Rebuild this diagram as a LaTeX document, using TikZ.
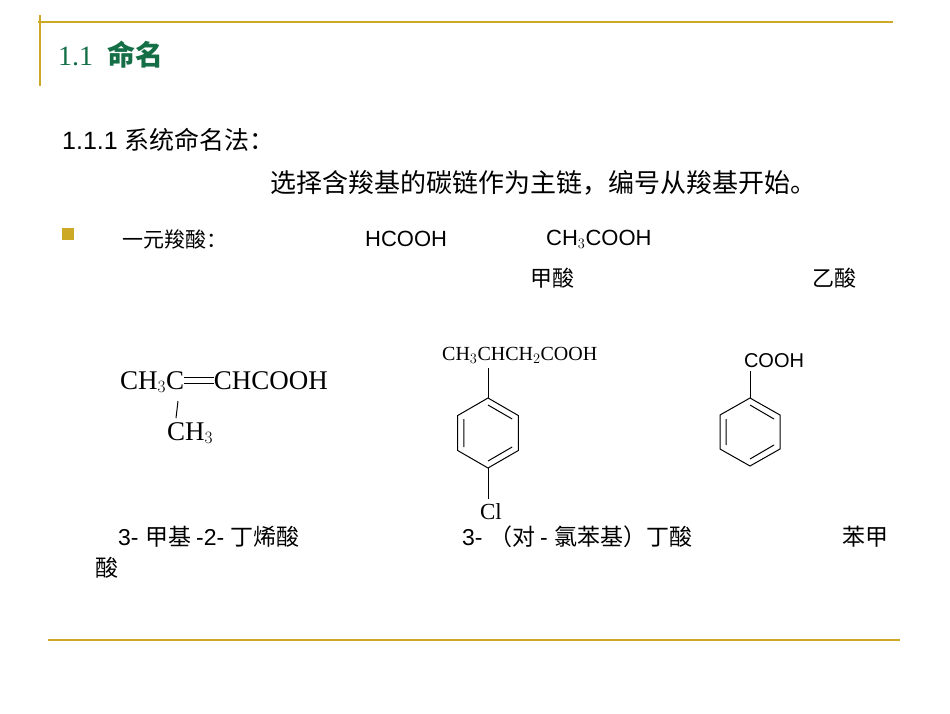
\documentclass[tikz,border=0pt]{standalone}
\usepackage{fontspec}
\setmainfont{Liberation Sans}
\newfontfamily\cjk{Noto Sans CJK SC}
\newfontfamily\serif{Liberation Serif}
\definecolor{gold}{RGB}{204,170,40}
\definecolor{tgreen}{RGB}{20,110,70}
\begin{document}
\begin{tikzpicture}[x=1pt,y=-1pt,
  txt/.style={anchor=west,inner sep=0pt},
  ring/.style={line width=1pt}]
\useasboundingbox (0,0) rectangle (950,713);
\fill[white] (0,0) rectangle (950,713);
% frame lines
\draw[gold,line width=1.5pt] (38,22) -- (893,22);
\draw[gold,line width=1.5pt] (40,15) -- (40,86);
\draw[gold,line width=1.5pt] (48,640) -- (900,640);
% titles
\node[txt,text=tgreen,font=\fontsize{28}{32}\selectfont] (t1) at (58,55) {\serif 1.1\hspace{14pt}\cjk\bfseries 命名};
\node[txt,font=\fontsize{25}{30}\selectfont] (t2) at (62,140) {1.1.1 \cjk 系统命名法：};
\node[txt,font=\fontsize{26}{30}\selectfont] (t3) at (270,183) {\cjk 选择含羧基的碳链作为主链，编号从羧基开始。};
\fill[gold] (62,228) rectangle (74,240);
\node[txt,font=\fontsize{21}{24}\selectfont] (b1) at (122,239) {\cjk 一元羧酸：};
\node[txt,font=\fontsize{22}{24}\selectfont] (h1) at (365,239) {HCOOH};
\node[txt,font=\fontsize{22}{24}\selectfont] (h2) at (546,239) {CH$_3$COOH};
\node[txt,font=\fontsize{22}{24}\selectfont] (n1) at (530,278) {\cjk 甲酸};
\node[txt,font=\fontsize{22}{24}\selectfont] (n2) at (812,278) {\cjk 乙酸};
% molecule 1
\node[txt,font=\fontsize{27}{30}\selectfont\serif] (m1) at (120,382) {CH$_3$C\raisebox{0.2em}{\rule{1.1em}{1pt}}\hspace{-1.1em}\raisebox{0.42em}{\rule{1.1em}{1pt}}CHCOOH};
\coordinate (v1) at (178,401);
\coordinate (v2) at (176,418);
\draw[line width=1pt] (v1) -- (v2);
\node[txt,font=\fontsize{27}{30}\selectfont\serif] (m1b) at (167,433) {CH$_3$};
% ring 1
\draw[ring] (488,398) -- (518.3,415.5) -- (518.3,450.5) -- (488,468) -- (457.7,450.5) -- (457.7,415.5) -- cycle;
\draw[ring] (488,405) -- (512.2,419) (512.2,447) -- (488,461) (463.8,447) -- (463.8,419);
\node[txt,font=\fontsize{20}{24}\selectfont\serif] (s1) at (442,355) {CH$_3$CHCH$_2$COOH};
\coordinate (s1b) at (488,368);
\draw[ring] (488,398) -- (s1b);
\node[font=\fontsize{23}{26}\selectfont\serif,inner sep=1pt] (cl) at (491,512) {Cl};
\coordinate (clt) at (488,499);
\draw[ring] (488,468) -- (clt);
% ring 2
\draw[ring] (750,398) -- (780,415) -- (780,449) -- (750,466) -- (720,449) -- (720,415) -- cycle;
\draw[ring] (750,405) -- (774,419) (774,445) -- (750,459) (726,445) -- (726,419);
\node[font=\fontsize{20}{24}\selectfont,inner sep=1pt] (co) at (774,361) {COOH};
\coordinate (cob) at (750,371);
\draw[ring] (750,398) -- (cob);
% names
\node[txt,font=\fontsize{23}{26}\selectfont] (p1) at (118,537) {3- \cjk 甲基 \rmfamily -2- \cjk 丁烯酸};
\node[txt,font=\fontsize{23}{26}\selectfont] (p2) at (462,537) {3- \cjk （对 \rmfamily - \cjk 氯苯基）丁酸};
\node[txt,font=\fontsize{23}{26}\selectfont] (p3) at (842,537) {\cjk 苯甲};
\node[txt,font=\fontsize{23}{26}\selectfont] (p4) at (95,568) {\cjk 酸};
\end{tikzpicture}
\end{document}
